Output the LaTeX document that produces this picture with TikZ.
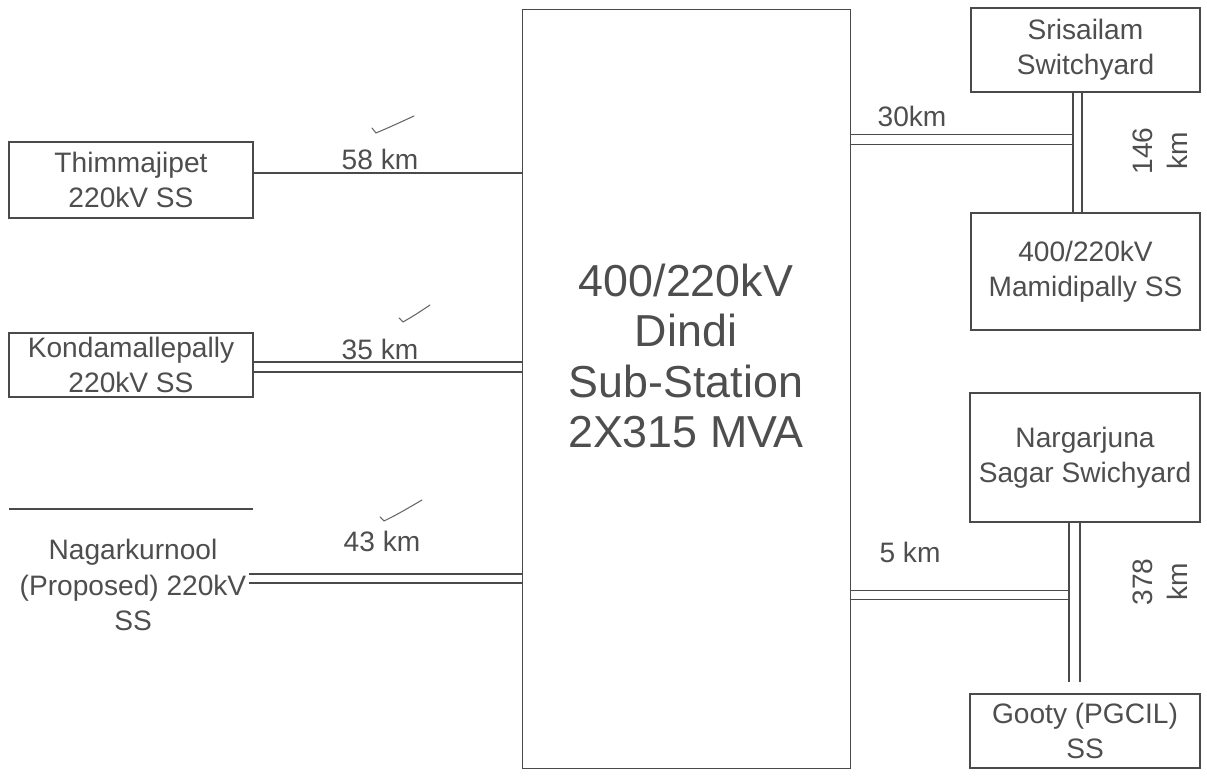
\documentclass[tikz,border=0pt]{standalone}
\usepackage{fontspec}
\setmainfont{Liberation Sans}
\usepackage{tikz}
\usetikzlibrary{positioning,calc}
\definecolor{LineGray}{HTML}{4A4A4A}
\definecolor{TextGray}{HTML}{4E4E4E}
\definecolor{TickGray}{HTML}{666666}

\begin{document}
\begin{tikzpicture}[x=0.02cm, y=-0.02cm,
    ssbox/.style={draw=LineGray, line width=0.8pt, text=TextGray, align=center,
      inner sep=0pt, font=\fontsize{16}{20}\selectfont},
    kmtext/.style={text=TextGray, inner sep=0pt, font=\fontsize{16}{20}\selectfont},
    feeder/.style={draw=LineGray, line width=0.8pt},
    tick/.style={draw=TickGray, line width=0.6pt, line cap=round}]
  \useasboundingbox[fill=white] (0,0) rectangle (1207,776);

  % left side stations
  \node[ssbox, minimum width=4.88cm, minimum height=1.52cm] (thim) at (131,180) {Thimmajipet\\220kV SS};
  \node[ssbox, minimum width=4.88cm, minimum height=1.28cm] (konda) at (131,365) {Kondamallepally\\220kV SS};
  \node[kmtext, align=center] (nagar) at (133,585) {Nagarkurnool\\(Proposed) 220kV\\SS};
  \draw[feeder] ($(nagar.north)+(-124,-30)$) -- ($(nagar.north)+(120,-30)$);
  \coordinate (nagarend) at (249,578.5);

  % main sub-station
  \node[ssbox, minimum width=6.56cm, minimum height=15.18cm] (dindi) at (686.5,389) {};
  \node[kmtext, align=center, font=\fontsize{25.5}{28.5}\selectfont] (dinditext) at (686,356)
    {400/220kV\\Dindi\\Sub-Station\\2X315 MVA};

  % right side stations
  \node[ssbox, minimum width=4.58cm, minimum height=1.68cm] (sris) at (1085.5,50) {Srisailam\\Switchyard};
  \node[ssbox, minimum width=4.58cm, minimum height=2.34cm] (mam) at (1085.5,271.5) {400/220kV\\Mamidipally SS};
  \node[ssbox, minimum width=4.6cm, minimum height=2.58cm] (narg) at (1085,457.5) {Nargarjuna\\Sagar Swichyard};
  \node[ssbox, minimum width=4.6cm, minimum height=1.48cm] (gooty) at (1085,731) {Gooty (PGCIL)\\SS};
  \coordinate (srisjoin) at ($(sris.south)+(-12.5,42)$);
  \coordinate (nargjoin) at ($(narg.south)+(-16,68)$);

  % feeders
  \draw[feeder] ($(thim.east)+(0,-7)$) -- ($(thim.east -| dindi.west)+(0,-7)$);
  \draw[feeder] ($(konda.east)+(0,-3)$) -- ($(konda.east -| dindi.west)+(0,-3)$);
  \draw[feeder] ($(konda.east)+(0,7)$) -- ($(konda.east -| dindi.west)+(0,7)$);
  \draw[feeder] ($(nagarend)+(0,-4.5)$) -- ($(nagarend -| dindi.west)+(0,-4.5)$);
  \draw[feeder] ($(nagarend)+(0,4.5)$) -- ($(nagarend -| dindi.west)+(0,4.5)$);
  \draw[feeder] (srisjoin -| dindi.east) -- (srisjoin);
  \draw[feeder] ($(srisjoin -| dindi.east)+(0,10)$) -- ($(srisjoin)+(0,10)$);
  \draw[feeder] ($(sris.south)+(-12.5,0)$) -- ($(mam.north)+(-12.5,0)$);
  \draw[feeder] ($(sris.south)+(-3.5,0)$) -- ($(mam.north)+(-3.5,0)$);
  \draw[feeder] (nargjoin -| dindi.east) -- (nargjoin);
  \draw[feeder] ($(nargjoin -| dindi.east)+(0,9)$) -- ($(nargjoin)+(1,9)$);
  \draw[feeder] ($(narg.south)+(-16,0)$) -- ($(gooty.north)+(-16,-11)$);
  \draw[feeder] ($(narg.south)+(-5,0)$) -- ($(gooty.north)+(-5,-11)$);

  % distances
  \node[kmtext, anchor=base] (km58) at (380,170) {58 km};
  \node[kmtext, anchor=base] (km35) at (380,360) {35 km};
  \node[kmtext, anchor=base] (km43) at (382,552) {43 km};
  \node[kmtext, anchor=base] (km30) at (912,127) {30km};
  \node[kmtext, anchor=base] (km5) at (910,562) {5 km};
  \node[kmtext, rotate=90, align=center] (km146) at (1160,151) {146\\km};
  \node[kmtext, rotate=90, align=center] (km378) at (1160,582) {378\\km};

  % check marks
  \draw[tick] (372,128) -- (376,133) .. controls (390,127) .. (414,116);
  \draw[tick] (399,318) -- (403,322) .. controls (415,315) .. (430,305);
  \draw[tick] (380,517) -- (384,521) .. controls (398,514) .. (422,500);
\end{tikzpicture}
\end{document}
